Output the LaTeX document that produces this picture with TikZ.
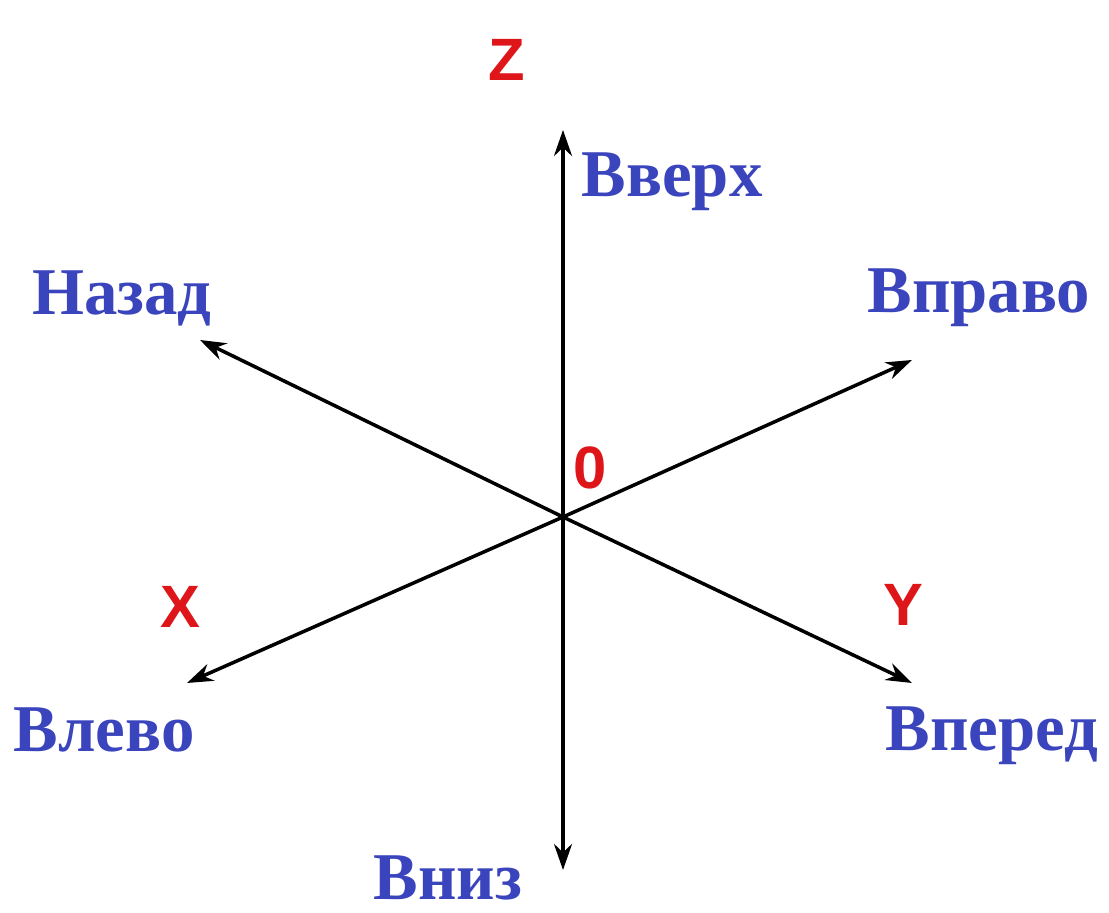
\documentclass[tikz,border=0pt]{standalone}
\usepackage{fontspec}
\setmainfont{Liberation Serif}
\newfontfamily\axisfont{Liberation Sans}
\usetikzlibrary{arrows.meta,positioning}
\definecolor{dirblue}{RGB}{58,68,188}
\definecolor{axisred}{RGB}{222,22,26}
\tikzset{
  axis line/.style={-{Stealth[length=2.6mm,width=1.8mm]}, line width=1pt, black},
  direction label/.style={text=dirblue, font=\bfseries\fontsize{19}{21}\selectfont, inner sep=0pt},
  axis label/.style={text=axisred, font=\axisfont\bfseries\fontsize{17}{19}\selectfont, inner sep=0pt}
}

\begin{document}
\begin{tikzpicture}[x=0.01cm, y=-0.01cm]
    \useasboundingbox (0,0) rectangle (1109,913);
    \coordinate (origin) at (563,517);
    \coordinate (up end) at (563,130);
    \coordinate (down end) at (563,870);
    \coordinate (back end) at (200,340);
    \coordinate (right end) at (912,360);
    \coordinate (left end) at (187,683);
    \coordinate (forward end) at (912,683);
    \node[axis label] (z) at (507,60) {Z};
    \node[axis label] (zero) at (590,468) {0};
    \node[axis label] (x) at (180,607) {X};
    \node[axis label] (y) at (903,605) {Y};
    \node[direction label] (up) at (672,182) {Вверх};
    \node[direction label] (back) at (122,298) {Назад};
    \node[direction label] (right) at (979,298) {Вправо};
    \node[direction label] (left) at (104,730) {Влево};
    \node[direction label] (forward) at (992,736) {Вперед};
    \node[direction label] (down) at (448,878) {Вниз};
    \draw[axis line] (origin) -- (up end);
    \draw[axis line] (origin) -- (down end);
    \draw[axis line] (origin) -- (back end);
    \draw[axis line] (origin) -- (right end);
    \draw[axis line] (origin) -- (left end);
    \draw[axis line] (origin) -- (forward end);
  \end{tikzpicture}
\end{document}
